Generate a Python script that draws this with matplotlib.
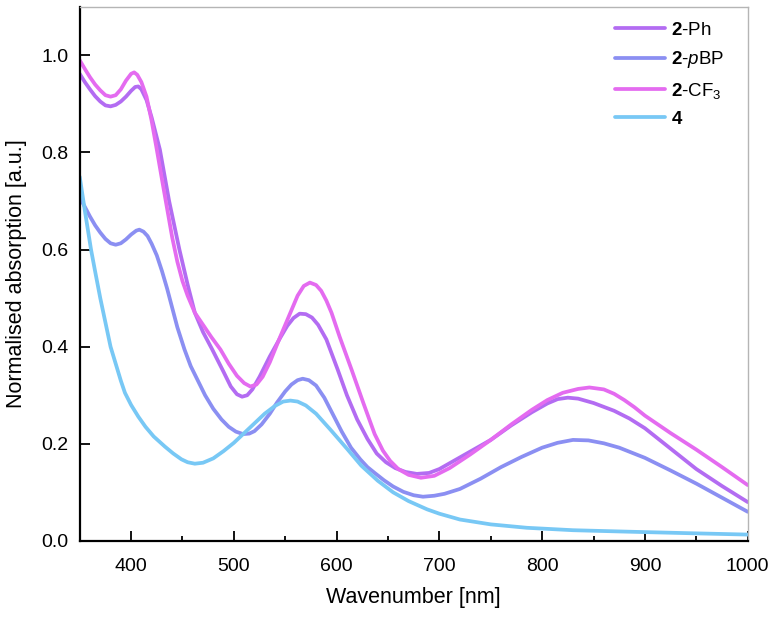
import numpy as np
import matplotlib
matplotlib.use("Agg")
import matplotlib.pyplot as plt
from matplotlib.ticker import MultipleLocator, FormatStrFormatter

plt.rcParams['font.family'] = ['Liberation Sans', 'DejaVu Sans']
plt.rcParams['mathtext.fontset'] = 'custom'
plt.rcParams['mathtext.rm'] = 'Liberation Sans'
plt.rcParams['mathtext.it'] = 'Liberation Sans:italic'
plt.rcParams['mathtext.bf'] = 'Liberation Sans:bold'

# 2-Ph
ph_x = [350, 355, 360, 365, 370, 375, 380, 385, 390, 395, 400, 404, 407, 410, 415,
        420, 428, 437, 447, 455, 462, 470, 479, 490, 497, 503, 508, 513, 518, 525,
        535, 545, 552, 558, 564, 570, 576, 582, 590, 601, 610, 620, 630, 639, 648,
        657, 667, 678, 690, 700, 720, 750, 770, 790, 805, 815, 825, 835, 850, 870,
        885, 900, 925, 950, 975, 1000]
ph_y = [0.962, 0.945, 0.93, 0.916, 0.905, 0.897, 0.895, 0.898, 0.905, 0.915, 0.927,
        0.935, 0.936, 0.93, 0.908, 0.872, 0.806, 0.70, 0.60, 0.528, 0.47, 0.43,
        0.394, 0.348, 0.318, 0.302, 0.297, 0.30, 0.312, 0.338, 0.38, 0.418, 0.443,
        0.459, 0.468, 0.467, 0.46, 0.445, 0.415, 0.353, 0.30, 0.25, 0.21, 0.18,
        0.162, 0.15, 0.142, 0.138, 0.14, 0.148, 0.172, 0.208, 0.238, 0.265, 0.283,
        0.292, 0.295, 0.293, 0.284, 0.268, 0.252, 0.232, 0.19, 0.148, 0.113, 0.08]

# 2-pBP
pbp_x = [350, 355, 360, 365, 370, 375, 380, 385, 390, 395, 400, 405, 408, 412, 416,
         420, 425, 430, 435, 440, 445, 452, 458, 465, 472, 480, 488, 495, 502, 509,
         515, 520, 527, 535, 542, 550, 556, 562, 567, 573, 580, 588, 597, 605, 614,
         623, 630, 637, 646, 655, 665, 675, 684, 695, 705, 720, 740, 760, 780, 800,
         815, 830, 845, 860, 875, 900, 925, 950, 975, 1000]
pbp_y = [0.707, 0.688, 0.668, 0.65, 0.635, 0.622, 0.613, 0.61, 0.613, 0.621, 0.631,
         0.639, 0.641, 0.637, 0.628, 0.612, 0.588, 0.556, 0.52, 0.48, 0.44, 0.394,
         0.36, 0.33, 0.30, 0.272, 0.25, 0.235, 0.225, 0.22, 0.221, 0.226, 0.24,
         0.262, 0.285, 0.308, 0.322, 0.331, 0.334, 0.331, 0.32, 0.295, 0.258, 0.225,
         0.192, 0.168, 0.152, 0.14, 0.125, 0.112, 0.101, 0.094, 0.091, 0.093, 0.097,
         0.107, 0.128, 0.152, 0.173, 0.192, 0.202, 0.208, 0.207, 0.201, 0.192,
         0.171, 0.145, 0.118, 0.089, 0.06]

# 2-CF3
cf3_x = [350, 355, 360, 365, 370, 375, 380, 385, 390, 395, 400, 403, 406, 410, 415,
         420, 425, 430, 435, 440, 445, 450, 455, 462, 470, 478, 487, 495, 503, 510,
         516, 522, 528, 535, 545, 555, 562, 568, 574, 580, 585, 590, 595, 603, 615,
         626, 637, 645, 652, 660, 670, 682, 695, 710, 730, 750, 770, 790, 805, 820,
         835, 846, 860, 870, 880, 890, 900, 925, 950, 975, 1000]
cf3_y = [0.99, 0.972, 0.955, 0.94, 0.928, 0.918, 0.915, 0.918, 0.93, 0.948, 0.962,
         0.965, 0.96, 0.945, 0.915, 0.865, 0.806, 0.745, 0.685, 0.625, 0.575, 0.535,
         0.505, 0.47, 0.445, 0.42, 0.394, 0.365, 0.34, 0.325, 0.318, 0.322, 0.338,
         0.368, 0.42, 0.47, 0.505, 0.525, 0.532, 0.527, 0.515, 0.495, 0.47, 0.42,
         0.35, 0.284, 0.22, 0.186, 0.165, 0.148, 0.136, 0.13, 0.134, 0.15, 0.178,
         0.208, 0.24, 0.27, 0.29, 0.305, 0.313, 0.316, 0.312, 0.303, 0.29, 0.275,
         0.258, 0.222, 0.188, 0.152, 0.115]

# 4
c4_x = [350, 355, 361, 365, 370, 375, 380, 385, 390, 394, 400, 407, 414, 422, 433,
        441, 449, 455, 462, 470, 480, 490, 500, 509, 520, 530, 540, 548, 555, 562,
        570, 580, 594, 610, 624, 640, 655, 670, 688, 700, 720, 750, 785, 830, 883,
        940, 1000]
c4_y = [0.75, 0.68, 0.60, 0.555, 0.50, 0.45, 0.40, 0.365, 0.33, 0.305, 0.28, 0.256,
        0.235, 0.215, 0.194, 0.18, 0.168, 0.162, 0.159, 0.161, 0.17, 0.185, 0.202,
        0.22, 0.242, 0.262, 0.278, 0.287, 0.289, 0.287, 0.279, 0.262, 0.229, 0.19,
        0.155, 0.124, 0.10, 0.082, 0.065, 0.056, 0.044, 0.034, 0.027, 0.022, 0.019,
        0.016, 0.013]

fig = plt.figure(figsize=(7.74, 6.21), dpi=100)
ax = fig.add_axes([0.103, 0.129, 0.863, 0.860])

style = dict(lw=2.7, solid_joinstyle='round', solid_capstyle='round')
ax.plot(ph_x, ph_y, color='#b36cf2', label=r'$\mathbf{2}$-Ph', **style)
ax.plot(pbp_x, pbp_y, color='#8b8ff2', label=r'$\mathbf{2}$-$\mathit{p}$BP', **style)
ax.plot(cf3_x, cf3_y, color='#e46bf0', label=r'$\mathbf{2}$-CF$_3$', **style)
ax.plot(c4_x, c4_y, color='#78c8f5', label=r'$\mathbf{4}$', **style)

ax.set_xlim(350, 1000)
ax.set_ylim(0, 1.1)
ax.xaxis.set_major_locator(MultipleLocator(100))
ax.xaxis.set_minor_locator(MultipleLocator(50))
ax.yaxis.set_major_locator(MultipleLocator(0.2))
ax.yaxis.set_major_formatter(FormatStrFormatter('%.1f'))
ax.tick_params(axis='both', which='major', direction='in', length=7, width=1.3,
               labelsize=14)
ax.tick_params(axis='x', which='major', pad=12)
ax.tick_params(axis='y', which='major', pad=8)
ax.tick_params(axis='x', which='minor', direction='in', length=3.6, width=1.3)
for s in ['left', 'bottom']:
    ax.spines[s].set_linewidth(1.6)
for s in ['top', 'right']:
    ax.spines[s].set_color('#b5b5b5')
    ax.spines[s].set_linewidth(1.0)

ax.set_xlabel('Wavenumber [nm]', fontsize=15.5, labelpad=9)
ax.set_ylabel('Normalised absorption [a.u.]', fontsize=15.5, labelpad=10)

ax.legend(loc='upper left', bbox_to_anchor=(0.801, 0.972), frameon=False,
          fontsize=13.5, handlelength=2.7, handletextpad=0.3, labelspacing=0.55,
          borderpad=0, borderaxespad=0)

fig.savefig('out.png', dpi=100)
